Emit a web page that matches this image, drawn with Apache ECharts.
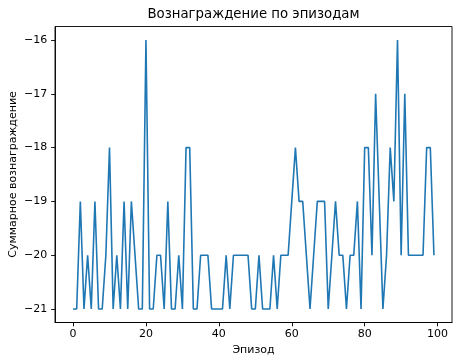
<!DOCTYPE html>
<html>
<head>
<meta charset="utf-8">
<script src="https://cdn.jsdelivr.net/npm/echarts@6/dist/echarts.min.js"></script>
<style>
html,body{margin:0;padding:0;background:#fff;}
#chart{width:463px;height:363px;}
</style>
</head>
<body>
<div id="chart"></div>
<script>
const titleText = "Вознаграждение по эпизодам";
const xLabelText = "Эпизод";
const yLabelText = "Суммарное вознаграждение";
const xTicks = [0, 20, 40, 60, 80, 100];
const yTicks = [-21, -20, -19, -18, -17, -16];
const rewards = [
  -21, -21, -19, -21, -20, -21, -19, -21, -21, -20,
  -18, -21, -20, -21, -19, -21, -19, -20, -21, -21,
  -16, -21, -21, -20, -20, -21, -19, -21, -21, -20,
  -21, -18, -18, -21, -21, -20, -20, -20, -21, -21,
  -21, -21, -20, -21, -20, -20, -20, -20, -20, -21,
  -21, -20, -21, -21, -21, -20, -21, -20, -20, -20,
  -19, -18, -19, -19, -20, -21, -20, -19, -19, -19,
  -21, -20, -19, -20, -20, -21, -20, -20, -19, -21,
  -18, -18, -20, -17, -19, -21, -20, -18, -19, -16,
  -20, -17, -20, -20, -20, -20, -20, -18, -18, -20
];
const episodes = rewards.map((_, i) => i);

const FONT = 'DejaVu Sans';
const fmt = v => String(v).replace('-', '\u2212');

const chart = echarts.init(document.getElementById('chart'), null, {renderer: 'canvas'});
const gridL = 55, gridR = 11, gridT = 26.5, gridB = 40.5;
const plotCx = gridL + (463 - gridL - gridR) / 2;
const plotCy = gridT + (363 - gridT - gridB) / 2;

chart.setOption({
  animation: false,
  backgroundColor: '#fff',
  grid: {left: gridL, right: gridR, top: gridT, bottom: gridB, show: true, borderColor: '#000', borderWidth: 0.9, backgroundColor: 'transparent'},
  xAxis: {
    type: 'value', min: -4.95, max: 103.95,
    axisLine: {show: true, onZero: false, lineStyle: {color: '#000', width: 0.9}},
    axisTick: {show: true, inside: false, length: 3.9, lineStyle: {color: '#000', width: 0.9}, customValues: xTicks},
    axisLabel: {show: true, margin: 6, color: '#000', fontFamily: FONT, fontSize: 11, customValues: xTicks, formatter: fmt},
    splitLine: {show: false}
  },
  yAxis: {
    type: 'value', min: -21.25, max: -15.75,
    axisLine: {show: true, onZero: false, lineStyle: {color: '#000', width: 0.9}},
    axisTick: {show: true, inside: false, length: 3.9, lineStyle: {color: '#000', width: 0.9}, customValues: yTicks},
    axisLabel: {show: true, margin: 7.8, color: '#000', fontFamily: FONT, fontSize: 11, customValues: yTicks, formatter: fmt},
    splitLine: {show: false}
  },
  series: [{
    type: 'line',
    data: episodes.map((e, i) => [e, rewards[i]]),
    showSymbol: false,
    symbol: 'none',
    lineStyle: {color: '#1f77b4', width: 1.6},
    itemStyle: {color: '#1f77b4'}
  }],
  graphic: [
    {type: 'text', x: plotCx, y: 14.5, style: {text: titleText, fontFamily: FONT, fontSize: 13.3, fill: '#000', textAlign: 'center', textVerticalAlign: 'middle'}},
    {type: 'text', x: plotCx, y: 350.5, style: {text: xLabelText, fontFamily: FONT, fontSize: 11, fill: '#000', textAlign: 'center', textVerticalAlign: 'middle'}},
    {type: 'text', x: 13, y: plotCy, rotation: Math.PI / 2, style: {text: yLabelText, fontFamily: FONT, fontSize: 11, fill: '#000', textAlign: 'center', textVerticalAlign: 'middle'}}
  ]
});
</script>
</body>
</html>
